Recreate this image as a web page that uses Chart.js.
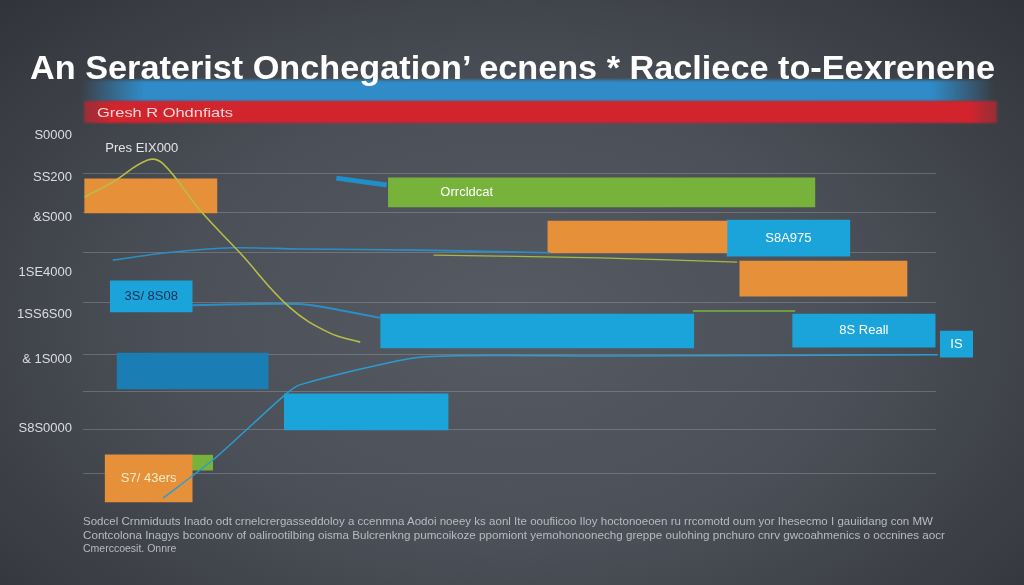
<!DOCTYPE html>
<html>
<head>
<meta charset="utf-8">
<script src="https://cdn.jsdelivr.net/npm/chart.js@4.4.0/dist/chart.umd.min.js"></script>
<style>
  html, body { margin: 0; padding: 0; }
  body {
    width: 1024px; height: 585px; overflow: hidden; position: relative;
    background: radial-gradient(ellipse 75% 85% at 50% 55%, #565a63 0%, #4b4f57 45%, #383b41 80%, #2c2f34 100%);
    font-family: "Liberation Sans", Arial, sans-serif;
  }
  #blueband {
    position: absolute; left: 80px; top: 80px; width: 915px; height: 22px;
    background: linear-gradient(90deg, rgba(47,140,200,0), #2f8cc8 7%, #2f8cc8 93%, rgba(47,140,200,0));
    filter: blur(1.5px);
  }
  #redband {
    position: absolute; left: 84px; top: 101px; width: 913px; height: 22px;
    background: linear-gradient(90deg, rgba(210,36,45,0.6), #d2242d 3%, #d2242d 97%, rgba(210,36,45,0.6));
    filter: blur(1px);
  }
  #title {
    position: absolute; left: 30px; top: 48px; white-space: nowrap;
    color: #fff; font-size: 33px; font-weight: bold; line-height: 40px; transform-origin: left center;
  }
  #subtitle {
    position: absolute; left: 97px; top: 104px; white-space: nowrap;
    color: #f2d9d9; font-size: 13px; line-height: 17px; transform-origin: left center;
  }
  #footer { position: absolute; left: 83px; top: 515px; color: #b8bbc1; font-size: 10.5px; line-height: 13.5px; }
  #footer div { white-space: nowrap; transform-origin: left center; width: max-content; }
  canvas { position: absolute; left: 0; top: 0; }
</style>
</head>
<body>
<div id="blueband"></div>
<div id="redband"></div>
<div id="title">An Seraterist Onchegation’ ecnens * Racliece to-Eexrenene</div>
<div id="subtitle">Gresh R Ohdnfiats</div>
<canvas id="canvas" width="1024" height="585"></canvas>
<div id="footer">
  <div data-w="850">Sodcel Crnmiduuts Inado odt crnelcrergasseddoloy a ccenmna Aodoi noeey ks aonl Ite ooufiicoo Iloy hoctonoeoen ru rrcomotd oum yor Ihesecmo I gauiidang con MW</div>
  <div data-w="862">Contcolona Inagys bconoonv of oalirootilbing oisma Bulcrenkng pumcoikoze ppomiont yemohonoonechg greppe oulohing pnchuro cnrv gwcoahmenics o occnines aocr</div>
  <div>Cmerccoesit. Onnre</div>
</div>
<script>
// axis labels (garbled in the source picture)
const tickLabels = ['S0000', 'SS200', '&S000', '1SE4000', '1SS6S00', '& 1S000', 'S8S0000'];
const tickValues = [2.6, 13.5, 23.9, 38.4, 49.1, 60.8, 78.7];
const gridValues = [12.7, 22.6, 33.2, 46.0, 59.7, 69.1, 79.0, 90.4];

// floating bars: row, start, end
const orangeRows = [18.4, 29.1, 39.9, 91.8];
const orangeStart = [0.2, 54.5, 77.0, 2.6];
const orangeEnd = [15.7, 75.5, 96.6, 12.8];
const orangeLabels = ['', '', '', 'S7/ 43ers'];

const blueRows = [29.4, 44.5, 53.5, 53.4, 74.5, 56.9];
const blueStart = [75.5, 3.2, 34.9, 83.2, 23.6, 100.5];
const blueEnd = [89.9, 12.8, 71.6, 99.9, 42.8, 104.3];
const blueLabels = ['S8A975', '3S/ 8S08', '', '8S Reall', '', 'IS'];

const navyRows = [63.9];
const navyStart = [4.0];
const navyEnd = [21.7];

const greenRows = [17.5, 87.7];
const greenStart = [35.8, 12.8];
const greenEnd = [85.8, 15.2];
const greenLabels = ['Orrcldcat', ''];

// lines
const peakX = [0.2, 3.5, 7.6, 9.4, 13.7, 18.4, 24.2, 28.9, 32.5];
const peakY = [18.7, 14.8, 9.1, 10.1, 22.1, 33.2, 47.3, 54.0, 56.4];
const peakLabel = 'Pres EIX000';
const flatX = [3.5, 9.8, 17.6, 25.4, 39.5, 54.7];
const flatY = [35.1, 33.2, 31.9, 32.2, 32.5, 33.2];
const driftX = [41.1, 60.6, 76.7];
const driftY = [33.8, 34.5, 35.6];
const linkX = [12.8, 25.4, 30.1, 34.9];
const linkY = [46.8, 46.5, 48.1, 50.1];
const stubX = [71.5, 83.5];
const stubY = [48.3, 48.3];
const riseX = [9.4, 15.5, 23.4, 25.4, 39.5, 60.6, 100.2];
const riseY = [96.9, 86.5, 70.6, 67.5, 60.3, 60.0, 59.7];
const slantX = [29.7, 35.6];
const slantY = [13.8, 15.6];

// styles
const orangeThick = [34, 32, 35, 47];
const blueThick = [36, 31, 34, 33, 36, 26];
const navyThick = [36];
const greenThick = [29, 15];

const datasets = [];

function addBars(rows, starts, ends, labels, thick, color, textColor) {
  rows.forEach((r, i) => {
    datasets.push({
      type: 'bar',
      indexAxis: 'y',
      stack: 's',
      order: 2,
      clip: false,
      data: [{ x: [starts[i], ends[i]], y: r }],
      backgroundColor: color,
      barThickness: thick[i],
      borderWidth: 0,
      text: labels ? labels[i] : '',
      textColor: textColor
    });
  });
}
addBars(orangeRows, orangeStart, orangeEnd, orangeLabels, orangeThick, '#e6913a', '#f6ebc8');
addBars(blueRows, blueStart, blueEnd, blueLabels, blueThick, '#1ba4da', '#ffffff');
addBars(navyRows, navyStart, navyEnd, null, navyThick, '#1a7db4', '#ffffff');
addBars(greenRows, greenStart, greenEnd, greenLabels, greenThick, '#77b23b', '#ffffff');
// dark label on the small blue bar
datasets.forEach(d => { if (d.text === '3S/ 8S08') d.textColor = '#1b2f57'; });
datasets.forEach(d => { if (d.text === 'Orrcldcat') d.textAlign = 'left'; });

function addLine(xs, ys, color, width, tension, extra) {
  datasets.push(Object.assign({
    type: 'line',
    order: 0,
    data: xs.map((x, i) => ({ x: x, y: ys[i] })),
    borderColor: color,
    borderWidth: width,
    tension: tension,
    pointRadius: 0,
    fill: false,
    clip: false
  }, extra || {}));
}
addLine(peakX, peakY, '#b8bd46', 1.6, 0.4, { peak: true });
addLine(flatX, flatY, '#2b8fc6', 1.6, 0.3);
addLine(driftX, driftY, '#a8b845', 1.3, 0.2);
addLine(linkX, linkY, '#2b8fc6', 2, 0.3);
addLine(stubX, stubY, '#7ab33a', 1.5, 0);
addLine(riseX, riseY, '#2a9dd0', 1.5, 0.2);
addLine(slantX, slantY, '#1f8fc9', 5, 0);

const barText = {
  id: 'barText',
  afterDatasetsDraw(chart) {
    const ctx = chart.ctx;
    ctx.save();
    ctx.font = '13px "Liberation Sans", Arial, sans-serif';
    ctx.textBaseline = 'middle';
    chart.data.datasets.forEach((ds, i) => {
      const meta = chart.getDatasetMeta(i);
      if (ds.text) {
        const el = meta.data[0];
        const left = Math.min(el.x, el.base), right = Math.max(el.x, el.base);
        ctx.fillStyle = ds.textColor;
        if (ds.textAlign === 'left') {
          ctx.textAlign = 'left';
          ctx.fillText(ds.text, left + 52, el.y);
        } else {
          ctx.textAlign = 'center';
          ctx.fillText(ds.text, (left + right) / 2, el.y);
        }
      }
      if (ds.peak) {
        const p = meta.data[2];
        ctx.fillStyle = '#e4e4e4';
        ctx.textAlign = 'center';
        ctx.fillText(peakLabel, p.x - 6, p.y - 12);
      }
    });
    ctx.restore();
  }
};

new Chart(document.getElementById('canvas').getContext('2d'), {
  type: 'bar',
  data: { datasets: datasets },
  plugins: [barText],
  options: {
    responsive: false,
    animation: false,
    layout: { padding: { top: 125, bottom: 75, left: 0, right: 88 } },
    plugins: { legend: { display: false }, tooltip: { enabled: false }, title: { display: false } },
    scales: {
      x: { type: 'linear', min: 0, max: 100, display: false, stacked: false, offset: false, grid: { offset: false } },
      y: {
        type: 'linear', position: 'left', min: 0, max: 100, reverse: true, offset: false,
        grid: { display: false, drawTicks: false, offset: false }, border: { display: false },
        afterBuildTicks: s => { s.ticks = tickValues.map(v => ({ value: v })); },
        afterFit: s => { s.width = 83; },
        ticks: {
          autoSkip: false, padding: 11, color: '#dcdde0',
          font: { size: 13, family: '"Liberation Sans", Arial, sans-serif' },
          callback: (v, i) => tickLabels[i]
        }
      },
      y2: {
        type: 'linear', position: 'left', min: 0, max: 100, reverse: true, offset: false,
        border: { display: false },
        grid: { color: 'rgba(195,200,210,0.28)', lineWidth: 1, drawTicks: false },
        afterBuildTicks: s => { s.ticks = gridValues.map(v => ({ value: v })); },
        afterFit: s => { s.width = 0; },
        ticks: { display: false }
      }
    }
  }
});

// squeeze the text lines to the widths seen in the picture
function fitWidth(el, w) {
  const natural = el.getBoundingClientRect().width;
  if (natural > 0) el.style.transform = 'scaleX(' + (w / natural) + ')';
}
fitWidth(document.getElementById('title'), 965);
fitWidth(document.getElementById('subtitle'), 136);
document.querySelectorAll('#footer div[data-w]').forEach(d => fitWidth(d, +d.dataset.w));
</script>
</body>
</html>
